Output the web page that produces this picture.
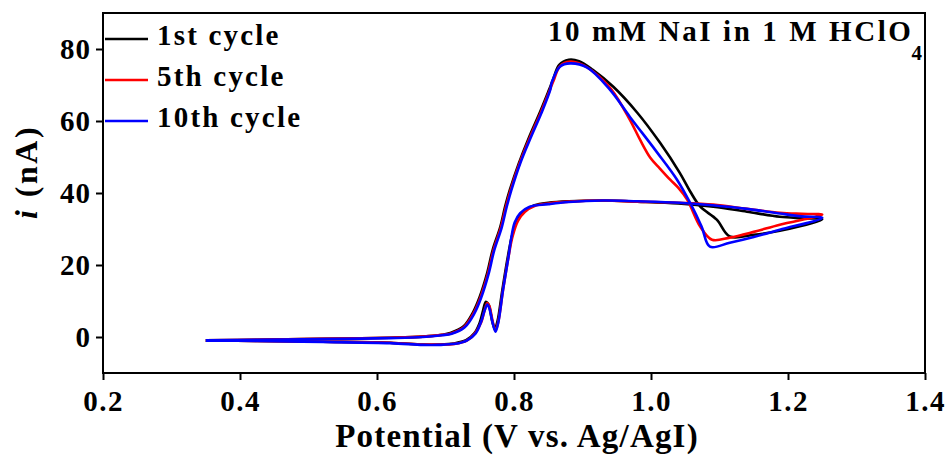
<!DOCTYPE html>
<html>
<head>
<meta charset="utf-8">
<script src="https://cdn.jsdelivr.net/npm/d3@7"></script>
<style>
  body { margin: 0; background: #fff; }
  text { font-family: "Liberation Serif", "Times New Roman", serif; font-weight: bold; fill: #000; }
</style>
</head>
<body>
<div class="chart"></div>
<script>
// potential (V) / current (nA) pairs
const cycle1 = [
  [0.35,-0.9],[0.425,-0.8],[0.521,-0.5],[0.619,-0.2],[0.667,0.1],[0.695,0.6],[0.707,1.1],[0.726,2.9],
  [0.740,6.8],[0.750,11.2],[0.761,17.9],[0.769,24.3],[0.780,30.6],[0.787,36.2],[0.794,40.9],[0.807,48.2],
  [0.822,55.5],[0.838,62.5],[0.851,68.6],[0.857,71.5],[0.866,75.6],[0.880,77.0],[0.895,76.6],[0.915,74.2],
  [0.945,69.5],[0.980,62.3],[1.013,54.0],[1.042,45.6],[1.057,40.5],[1.072,36.2],[1.096,32.6],[1.115,27.9],
  [1.150,28.4],[1.188,29.5],[1.25,32.7],
  [1.22,33.0],[1.188,33.4],[1.14,34.8],[1.091,36.2],[1.04,37.1],[0.98,37.6],[0.93,37.9],[0.88,37.7],
  [0.85,37.3],[0.83,36.6],[0.815,35.0],[0.805,32.5],[0.797,28.0],[0.791,22.3],[0.783,13.1],[0.776,4.5],
  [0.772,2.2],[0.768,4.5],[0.763,9.0],[0.759,9.8],[0.755,7.5],[0.750,4.0],[0.742,1.0],[0.730,-0.9],
  [0.712,-1.8],[0.69,-2.1],[0.667,-2.1],[0.619,-1.6],[0.521,-1.3],[0.425,-1.1],[0.35,-1.0]
];
const cycle5 = [
  [0.35,-0.9],[0.425,-0.8],[0.521,-0.5],[0.619,-0.2],[0.667,0.1],[0.695,0.6],[0.708,1.0],[0.727,2.8],
  [0.741,6.6],[0.751,11.0],[0.762,17.7],[0.770,24.1],[0.781,30.5],[0.788,36.0],[0.795,40.8],[0.808,48.2],
  [0.823,55.3],[0.839,62.3],[0.852,68.5],[0.858,71.3],[0.867,75.2],[0.882,76.5],[0.898,75.8],[0.915,73.8],
  [0.942,68.8],[0.969,60.4],[0.984,54.8],[0.999,49.8],[1.013,46.8],[1.028,43.7],[1.040,41.4],[1.053,38.1],
  [1.072,30.6],[1.089,27.0],[1.115,27.6],[1.150,29.2],[1.188,31.2],[1.25,34.0],
  [1.22,34.2],[1.188,34.5],[1.14,35.6],[1.091,36.8],[1.04,37.3],[0.98,37.6],[0.93,37.9],[0.88,37.6],
  [0.85,37.1],[0.83,36.4],[0.816,34.8],[0.806,32.3],[0.798,28.0],[0.792,22.3],[0.784,13.1],[0.777,4.2],
  [0.773,1.8],[0.769,4.2],[0.764,8.6],[0.761,9.4],[0.757,7.3],[0.752,4.0],[0.743,1.0],[0.731,-1.0],
  [0.713,-1.9],[0.69,-2.1],[0.667,-2.1],[0.619,-1.6],[0.521,-1.3],[0.425,-1.1],[0.35,-1.0]
];
const cycle10 = [
  [0.35,-0.9],[0.425,-0.8],[0.521,-0.6],[0.619,-0.3],[0.667,0.0],[0.695,0.5],[0.709,0.9],[0.728,2.7],
  [0.742,6.5],[0.752,10.9],[0.763,17.6],[0.771,24.0],[0.782,30.4],[0.789,35.9],[0.796,40.7],[0.809,48.2],
  [0.824,55.2],[0.840,62.2],[0.853,68.7],[0.855,70.6],[0.867,75.1],[0.882,76.0],[0.907,74.8],[0.940,68.7],
  [0.969,61.2],[1.008,51.5],[1.038,43.7],[1.057,37.3],[1.074,30.6],[1.086,25.1],[1.115,26.2],[1.150,27.8],
  [1.188,29.8],[1.25,33.1],
  [1.22,33.5],[1.188,34.3],[1.14,35.6],[1.09,36.6],[1.042,37.3],[0.98,37.7],[0.93,37.9],[0.88,37.5],
  [0.85,36.9],[0.823,36.2],[0.809,34.4],[0.801,31.8],[0.796,27.5],[0.792,22.3],[0.784,13.1],[0.777,4.0],
  [0.773,1.5],[0.769,3.8],[0.764,8.0],[0.761,9.0],[0.757,7.3],[0.753,4.8],[0.744,1.0],[0.731,-1.0],
  [0.714,-1.9],[0.69,-2.2],[0.667,-2.2],[0.619,-1.7],[0.521,-1.4],[0.425,-1.1],[0.35,-1.0]
];

const seriesNames = ["1st cycle", "5th cycle", "10th cycle"];
const seriesColors = ["#000000", "#ff0000", "#0000ff"];
const xTicks = [0.2, 0.4, 0.6, 0.8, 1.0, 1.2, 1.4];
const yTicks = [0, 20, 40, 60, 80];

const width = 947,
  height = 456;
const margin = { top: 13, right: 22, bottom: 83, left: 103 };

const svg = d3
  .select(".chart")
  .append("svg")
  .attr("width", width)
  .attr("height", height);

const xScale = d3
  .scaleLinear()
  .domain([0.2, 1.4])
  .range([margin.left, width - margin.right]);

const yScale = d3
  .scaleLinear()
  .domain([-10, 90])
  .range([height - margin.bottom, margin.top]);

let xAxis = d3
  .axisBottom(xScale)
  .tickValues(xTicks)
  .tickFormat(d3.format(".1f"))
  .tickSize(7)
  .tickSizeOuter(0)
  .tickPadding(4);

let yAxis = d3
  .axisLeft(yScale)
  .tickValues(yTicks)
  .tickSize(7)
  .tickSizeOuter(0)
  .tickPadding(5);

const gx = svg
  .append("g")
  .attr("transform", `translate(0, ${height - margin.bottom})`)
  .call(xAxis);
gx.selectAll("text")
  .style("font-size", "29px")
  .style("letter-spacing", "1.5px")
  .attr("dy", "0.92em");

const gy = svg
  .append("g")
  .attr("transform", `translate(${margin.left}, 0)`)
  .call(yAxis);
gy.selectAll("text")
  .style("font-size", "29px")
  .style("letter-spacing", "1px")
  .attr("dy", "0.34em");

[gx, gy].forEach((g) => {
  g.select(".domain").remove();
  g.selectAll(".tick line").attr("stroke", "#000").attr("stroke-width", 2);
});

const line = d3
  .line()
  .x((d) => xScale(d[0]))
  .y((d) => yScale(d[1]))
  .curve(d3.curveCatmullRom.alpha(0.5));

[cycle1, cycle5, cycle10].forEach((c, k) => {
  svg
    .append("path")
    .datum(c)
    .attr("fill", "none")
    .attr("stroke", seriesColors[k])
    .attr("stroke-width", 2.6)
    .attr("stroke-linejoin", "round")
    .attr("d", line);
});

// frame
svg
  .append("rect")
  .attr("x", xScale(0.2))
  .attr("y", yScale(90))
  .attr("width", xScale(1.4) - xScale(0.2))
  .attr("height", yScale(-10) - yScale(90))
  .attr("fill", "none")
  .attr("stroke", "#000")
  .attr("stroke-width", 2);

// legend
const legend = svg.append("g");
seriesNames.forEach((name, k) => {
  const ly = 39 + k * 41;
  legend
    .append("line")
    .attr("x1", 105)
    .attr("x2", 148)
    .attr("y1", ly)
    .attr("y2", ly)
    .attr("stroke", seriesColors[k])
    .attr("stroke-width", 2.6);
  legend
    .append("text")
    .attr("x", 157)
    .attr("y", ly + 6)
    .style("font-size", "29px")
    .style("letter-spacing", "2.2px")
    .text(name);
});

// annotation
const note = svg
  .append("text")
  .attr("x", 548)
  .attr("y", 41)
  .style("font-size", "29px")
  .style("letter-spacing", "2.6px");
note.append("tspan").text("10 mM NaI in 1 M HClO");
note
  .append("tspan")
  .attr("dx", -2)
  .attr("dy", 19)
  .style("font-size", "21px")
  .style("letter-spacing", "0px")
  .text("4");

// axis titles
svg
  .append("text")
  .attr("x", 517)
  .attr("y", 447)
  .attr("text-anchor", "middle")
  .style("font-size", "33px")
  .style("letter-spacing", "1.2px")
  .text("Potential (V vs. Ag/AgI)");

const yt = svg
  .append("text")
  .attr("transform", "translate(37, 172) rotate(-90)")
  .attr("text-anchor", "middle")
  .style("font-size", "32px")
  .style("letter-spacing", "2.5px");
yt.append("tspan").style("font-style", "italic").text("i");
yt.append("tspan").text(" (nA)");
</script>
</body>
</html>
